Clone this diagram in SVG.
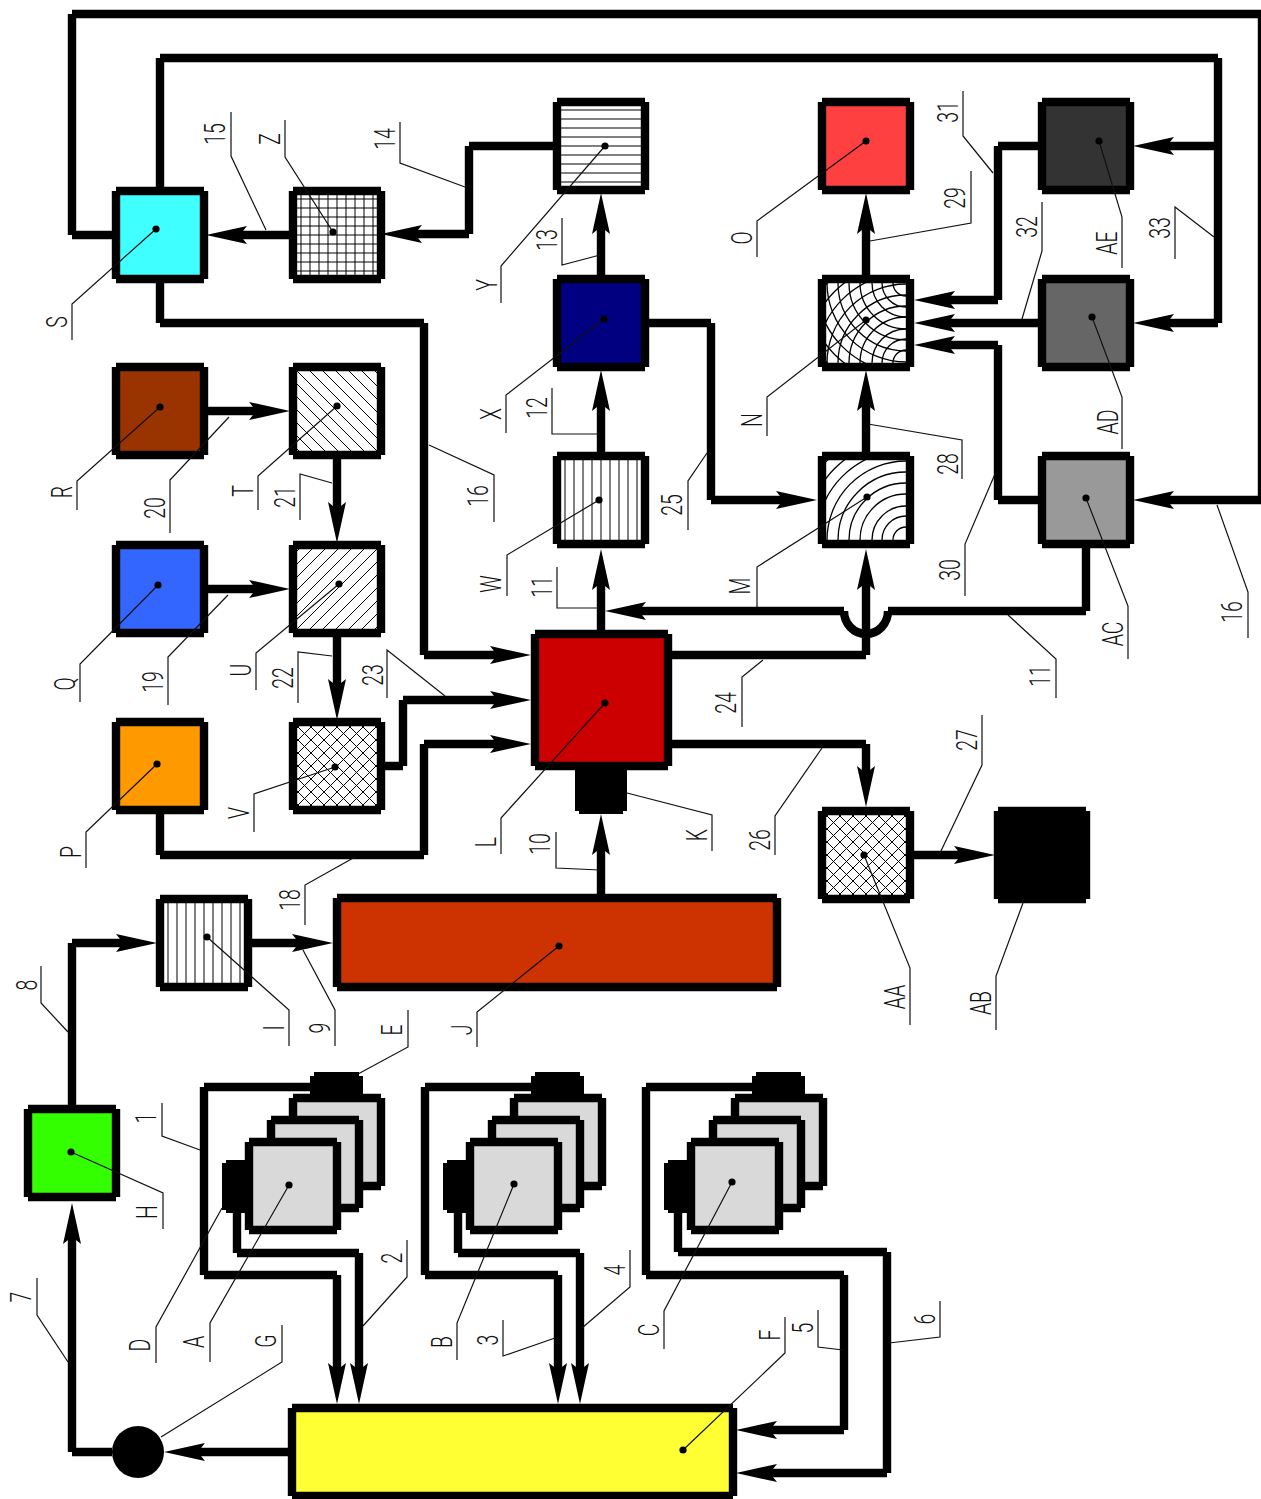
<svg xmlns="http://www.w3.org/2000/svg" width="1261" height="1499" viewBox="0 0 1261 1499">
<style>
.c path,.bx{fill:none;stroke:#000;stroke-width:8.4}
.a{marker-end:url(#arr)}
.ld,.l{fill:none;stroke:#111;stroke-width:1.2}
.ld{marker-start:url(#dot)}
.t{font-family:Roboto,"Liberation Sans",sans-serif;font-weight:300;font-size:30px;fill:#111;text-anchor:middle}
.h{fill:none;stroke:#000;stroke-width:1}
.r{fill:none;stroke:#000;stroke-width:1.3}
</style>
<defs>
<marker id="arr" markerUnits="userSpaceOnUse" markerWidth="41" markerHeight="18" viewBox="0 0 41 18" refX="11" refY="9" orient="auto"><path d="M0 0L41 9L0 18L4 13V5Z"/></marker>
<marker id="dot" markerUnits="userSpaceOnUse" markerWidth="8" markerHeight="8" viewBox="0 0 8 8" refX="4" refY="4"><circle cx="4" cy="4" r="3.6"/></marker>
<path id="b" class="bx" d="M-44 -44H44M44 -44V44M44 44H-44M-44 44V-44"/>
<rect id="f" x="-44" y="-44" width="88" height="88"/>
<pattern id="hh" x="4.5" y="4.5" width="9" height="9" patternUnits="userSpaceOnUse"><path class="h" d="M0 4.5H9"/></pattern>
<pattern id="hv" x="4.5" y="4.5" width="9" height="9" patternUnits="userSpaceOnUse"><path class="h" d="M4.5 0V9"/></pattern>
<pattern id="hg" x="4.5" y="4.5" width="9" height="9" patternUnits="userSpaceOnUse"><path class="h" d="M0 4.5H9M4.5 0V9"/></pattern>
<pattern id="hb" width="13" height="13" patternUnits="userSpaceOnUse"><path class="h" d="M0 0L13 13M-1 12L1 14M12 -1L14 1"/></pattern>
<pattern id="hf" width="13" height="13" patternUnits="userSpaceOnUse"><path class="h" d="M0 13L13 0M-1 1L1 -1M12 14L14 12"/></pattern>
<pattern id="hx" width="13" height="13" patternUnits="userSpaceOnUse"><path class="h" d="M0 0L13 13M-1 12L1 14M12 -1L14 1M0 13L13 0M-1 1L1 -1M12 14L14 12"/></pattern>
<clipPath id="ci"><rect x="-40" y="-40" width="80" height="80"/></clipPath>
<g id="arcs" class="r"><circle r="13"/><circle r="24"/><circle r="34"/><circle r="46"/><circle r="57"/><circle r="68"/><circle r="79"/><circle r="90"/><circle r="101"/><circle r="112"/></g>
<g id="cam"><use href="#f" x="44" y="-44" fill="#d9d9d9"/><use href="#b" x="44" y="-44"/><use href="#f" x="22" y="-22" fill="#d9d9d9"/><use href="#b" x="22" y="-22"/><use href="#f" fill="#d9d9d9"/><use href="#b"/></g>
</defs>
<rect width="1261" height="1499" fill="#fff"/>

<g id="connectors" class="c">
<path class="a" d="M310 1087H204M204 1087V1275M204 1275H337M337 1275V1374"/>
<path class="a" d="M237 1213V1253M237 1253H359M359 1253V1374"/>
<path class="a" d="M531 1087H425M425 1087V1275M425 1275H558M558 1275V1374"/>
<path class="a" d="M458 1213V1253M458 1253H580M580 1253V1374"/>
<path class="a" d="M752 1087H646M646 1087V1275M646 1275H844M844 1275V1430M844 1430H766"/>
<path class="a" d="M678 1213V1252M678 1252H887M887 1252V1473M887 1473H766"/>
<path class="a" d="M292 1452H194"/>
<path class="a" d="M112 1452H72M72 1452V1233"/>
<path class="a" d="M72 1105V943M72 943H127"/>
<path class="a" d="M251 943H303"/>
<path class="a" d="M160 810V855M160 855H424M424 855V744M424 744H501"/>
<path class="a" d="M601 894V844"/>
<path class="a" d="M381 766H403M403 766V700M403 700H501"/>
<path class="a" d="M160 281V323M160 323H424M424 323V655M424 655H501"/>
<path class="a" d="M601 630V579"/>
<path class="a" d="M1086 545V611M1086 611H888M888 611A22 23 0 0 1 844 611M844 611H635"/>
<path class="a" d="M672 655H866M866 655V579"/>
<path class="a" d="M649 323H711M711 323V500M711 500H787"/>
<path class="a" d="M672 744H866M866 744V777"/>
<path class="a" d="M914 855H965"/>
<path class="a" d="M866 453V400"/>
<path class="a" d="M866 277V223"/>
<path class="a" d="M601 453V400"/>
<path class="a" d="M601 277V223"/>
<path class="a" d="M555 146H469M469 146V234M469 234H411"/>
<path class="a" d="M290 235H236"/>
<path class="a" d="M160 190V58M160 58H1218M1218 58V323M1218 323H1163"/>
<path class="a" d="M1218 146H1163"/>
<path class="a" d="M114 235H72M72 235V14M72 14H1262M1262 14V500M1262 500H1163"/>
<path class="a" d="M1040 146H998M998 146V300M998 300H944"/>
<path class="a" d="M1040 323H944"/>
<path class="a" d="M1040 500H998M998 500V345M998 345H944"/>
<path class="a" d="M206 411H260"/>
<path class="a" d="M206 589H260"/>
<path class="a" d="M337 457V513"/>
<path class="a" d="M337 635V690"/>
</g>

<g id="nodeA" transform="translate(293 1186)"><use href="#cam"/></g>
<g id="nodeB" transform="translate(514 1186)"><use href="#cam"/></g>
<g id="nodeC" transform="translate(735 1186)"><use href="#cam"/></g>
<g id="nodeD"><path d="M226 1160H249V1213H226V1210H222V1163H226Z"/><path d="M447 1160H470V1213H447V1210H443V1163H447Z"/><path d="M668 1160H691V1213H668V1210H664V1163H668Z"/></g>
<g id="nodeE"><path d="M314 1072H359V1076H363V1095H310V1076H314Z"/><path d="M535 1072H580V1076H584V1095H531V1076H535Z"/><path d="M756 1072H801V1076H805V1095H752V1076H756Z"/></g>
<g id="nodeF"><rect x="292" y="1408" width="441" height="88" fill="#ffff33"/><path class="bx" d="M292 1408H733M733 1408V1496M733 1496H292M292 1496V1408"/></g>
<g id="nodeG"><circle cx="138" cy="1452" r="26"/></g>
<g id="nodeH" transform="translate(72 1153)"><use href="#f" fill="#33ff00"/><use href="#b"/></g>
<g id="nodeI" transform="translate(204 943)"><use href="#f" fill="#fff"/><use href="#f" fill="url(#hv)"/><use href="#b"/></g>
<g id="nodeJ"><rect x="337" y="898" width="440" height="89" fill="#cc3300"/><path class="bx" d="M337 898H777M777 898V987M777 987H337M337 987V898"/></g>
<g id="nodeK"><path d="M575 762H627V811H623V814H579V811H575Z"/></g>
<g id="nodeL"><rect x="535" y="634" width="133" height="132" fill="#cc0000"/><path class="bx" d="M535 634H668M668 634V766M668 766H535M535 766V634"/></g>
<g id="nodeM" transform="translate(866 500)"><use href="#f" fill="#fff"/><g clip-path="url(#ci)"><use href="#arcs" x="40" y="40"/></g><use href="#b"/></g>
<g id="nodeN" transform="translate(866 323)"><use href="#f" fill="#fff"/><g clip-path="url(#ci)"><use href="#arcs" x="40" y="40"/><use href="#arcs" x="40" y="-40"/></g><use href="#b"/></g>
<g id="nodeO" transform="translate(866 146)"><use href="#f" fill="#ff4040"/><use href="#b"/></g>
<g id="nodeP" transform="translate(160 766)"><use href="#f" fill="#ff9900"/><use href="#b"/></g>
<g id="nodeQ" transform="translate(160 589)"><use href="#f" fill="#3366ff"/><use href="#b"/></g>
<g id="nodeR" transform="translate(160 411)"><use href="#f" fill="#993300"/><use href="#b"/></g>
<g id="nodeS" transform="translate(160 235)"><use href="#f" fill="#40ffff"/><use href="#b"/></g>
<g id="nodeT" transform="translate(337 411)"><use href="#f" fill="#fff"/><use href="#f" fill="url(#hb)"/><use href="#b"/></g>
<g id="nodeU" transform="translate(337 589)"><use href="#f" fill="#fff"/><use href="#f" fill="url(#hf)"/><use href="#b"/></g>
<g id="nodeV" transform="translate(337 766)"><use href="#f" fill="#fff"/><use href="#f" fill="url(#hx)"/><use href="#b"/></g>
<g id="nodeW" transform="translate(601 500)"><use href="#f" fill="#fff"/><use href="#f" fill="url(#hv)"/><use href="#b"/></g>
<g id="nodeX" transform="translate(601 323)"><use href="#f" fill="#000080"/><use href="#b"/></g>
<g id="nodeY" transform="translate(601 146)"><use href="#f" fill="#fff"/><use href="#f" fill="url(#hh)"/><use href="#b"/></g>
<g id="nodeZ" transform="translate(337 235)"><use href="#f" fill="#fff"/><use href="#f" fill="url(#hg)"/><use href="#b"/></g>
<g id="nodeAA" transform="translate(866 855)"><use href="#f" fill="#fff"/><use href="#f" fill="url(#hx)"/><use href="#b"/></g>
<g id="nodeAB" transform="translate(1042 855)"><use href="#f" fill="#000"/><use href="#b"/></g>
<g id="nodeAC" transform="translate(1086 500)"><use href="#f" fill="#999"/><use href="#b"/></g>
<g id="nodeAD" transform="translate(1086 323)"><use href="#f" fill="#666"/><use href="#b"/></g>
<g id="nodeAE" transform="translate(1086 146)"><use href="#f" fill="#333"/><use href="#b"/></g>

<g id="leaders">
<path class="ld" d="M71 1152L163 1193V1229"/>
<path class="ld" d="M289 1185L210 1323V1362"/>
<path class="l" d="M222 1208L156 1327V1363"/>
<path class="l" d="M161 1437L282 1362V1325"/>
<path class="l" d="M68 1362L37 1315V1278"/>
<path class="l" d="M363 1326L407 1277V1240"/>
<path class="l" d="M200 1150L162 1136V1103"/>
<path class="l" d="M358 1074L408 1047V1010"/>
<path class="l" d="M68 1032L41 1003V966"/>
<path class="l" d="M303 950L335 1010V1046"/>
<path class="ld" d="M207 937L289 1010V1046"/>
<path class="ld" d="M559 946L477 1012V1047"/>
<path class="ld" d="M864 855L910 968V1025"/>
<path class="l" d="M1023 903L996 976V1030"/>
<path class="ld" d="M514 1184L457 1323V1360"/>
<path class="l" d="M555 1338L503 1356V1320"/>
<path class="l" d="M582 1328L630 1287V1250"/>
<path class="ld" d="M732 1182L664 1311V1349"/>
<path class="l" d="M843 1350L818 1347V1310"/>
<path class="ld" d="M683 1450L785 1353V1317"/>
<path class="l" d="M889 1343L940 1337V1301"/>
<path class="ld" d="M157 764L86 832V868"/>
<path class="ld" d="M335 767L254 794V832"/>
<path class="l" d="M355 857L305 885V925"/>
<path class="ld" d="M605 703L501 818V854"/>
<path class="l" d="M600 870L556 868V832"/>
<path class="l" d="M627 793L712 815V851"/>
<path class="l" d="M822 748L775 816V855"/>
<path class="l" d="M940 853L982 765V715"/>
<path class="l" d="M763 660L742 677V727"/>
<path class="l" d="M1008 615L1056 659V698"/>
<path class="ld" d="M1086 498L1128 606V659"/>
<path class="l" d="M1217 505L1248 592V638"/>
<path class="l" d="M995 474L965 544V596"/>
<path class="l" d="M707 453L688 481V530"/>
<path class="ld" d="M867 497L757 567V607"/>
<path class="l" d="M597 608L557 608V567"/>
<path class="ld" d="M599 500L507 555V596"/>
<path class="l" d="M868 424L962 440V479"/>
<path class="ld" d="M866 320L767 397V436"/>
<path class="ld" d="M604 319L506 395V433"/>
<path class="l" d="M600 434L552 434V388"/>
<path class="l" d="M429 445L494 475V522"/>
<path class="l" d="M229 417L170 480V533"/>
<path class="l" d="M332 483L300 474V520"/>
<path class="ld" d="M337 406L258 476V510"/>
<path class="ld" d="M339 584L256 653V690"/>
<path class="l" d="M332 656L298 652V703"/>
<path class="l" d="M445 696L387 650V698"/>
<path class="l" d="M228 595L168 657V705"/>
<path class="ld" d="M158 585L80 664V702"/>
<path class="ld" d="M160 407L77 481V510"/>
<path class="ld" d="M156 229L72 304V340"/>
<path class="ld" d="M333 232L285 157V120"/>
<path class="l" d="M266 230L231 156V112"/>
<path class="l" d="M465 187L400 163V122"/>
<path class="l" d="M600 255L562 265V218"/>
<path class="ld" d="M605 146L501 266V303"/>
<path class="ld" d="M866 141L757 221V257"/>
<path class="l" d="M870 241L971 223V171"/>
<path class="l" d="M993 173L963 136V91"/>
<path class="l" d="M1022 319L1042 251V202"/>
<path class="ld" d="M1099 141L1122 217V268"/>
<path class="ld" d="M1092 317L1122 397V449"/>
<path class="l" d="M1214 237L1175 207V259"/>
</g>

<g id="labels">
<text class="t" transform="translate(157 1212) rotate(-90) scale(.65 1)">H</text>
<text class="t" transform="translate(204 1342) rotate(-90) scale(.65 1)">A</text>
<text class="t" transform="translate(150 1345) rotate(-90) scale(.65 1)">D</text>
<text class="t" transform="translate(276 1341) rotate(-90) scale(.65 1)">G</text>
<text class="t" transform="translate(31 1297) rotate(-90) scale(.65 1)">7</text>
<text class="t" transform="translate(402 1258) rotate(-90) scale(.65 1)">2</text>
<text class="t" transform="translate(156 1118) rotate(-90) scale(.65 1)">1</text>
<text class="t" transform="translate(402 1030) rotate(-90) scale(.65 1)">E</text>
<text class="t" transform="translate(37 985) rotate(-90) scale(.65 1)">8</text>
<text class="t" transform="translate(330 1028) rotate(-90) scale(.65 1)">9</text>
<text class="t" transform="translate(284 1028) rotate(-90) scale(.65 1)">I</text>
<text class="t" transform="translate(472 1030) rotate(-90) scale(.65 1)">J</text>
<text class="t" transform="translate(905 997) rotate(-90) scale(.65 1)">AA</text>
<text class="t" transform="translate(991 1003) rotate(-90) scale(.65 1)">AB</text>
<text class="t" transform="translate(452 1342) rotate(-90) scale(.65 1)">B</text>
<text class="t" transform="translate(498 1340) rotate(-90) scale(.65 1)">3</text>
<text class="t" transform="translate(625 1270) rotate(-90) scale(.65 1)">4</text>
<text class="t" transform="translate(659 1330) rotate(-90) scale(.65 1)">C</text>
<text class="t" transform="translate(813 1328) rotate(-90) scale(.65 1)">5</text>
<text class="t" transform="translate(780 1335) rotate(-90) scale(.65 1)">F</text>
<text class="t" transform="translate(935 1319) rotate(-90) scale(.65 1)">6</text>
<text class="t" transform="translate(81 852) rotate(-90) scale(.65 1)">P</text>
<text class="t" transform="translate(249 813) rotate(-90) scale(.65 1)">V</text>
<text class="t" transform="translate(300 900) rotate(-90) scale(.65 1)">18</text>
<text class="t" transform="translate(496 842) rotate(-90) scale(.65 1)">L</text>
<text class="t" transform="translate(550 844) rotate(-90) scale(.65 1)">10</text>
<text class="t" transform="translate(707 835) rotate(-90) scale(.65 1)">K</text>
<text class="t" transform="translate(770 840) rotate(-90) scale(.65 1)">26</text>
<text class="t" transform="translate(977 740) rotate(-90) scale(.65 1)">27</text>
<text class="t" transform="translate(736 703) rotate(-90) scale(.65 1)">24</text>
<text class="t" transform="translate(1050 676) rotate(-90) scale(.65 1)">11</text>
<text class="t" transform="translate(1123 634) rotate(-90) scale(.65 1)">AC</text>
<text class="t" transform="translate(1242 612) rotate(-90) scale(.65 1)">16</text>
<text class="t" transform="translate(960 570) rotate(-90) scale(.65 1)">30</text>
<text class="t" transform="translate(682 505) rotate(-90) scale(.65 1)">25</text>
<text class="t" transform="translate(750 586) rotate(-90) scale(.65 1)">M</text>
<text class="t" transform="translate(552 587) rotate(-90) scale(.65 1)">11</text>
<text class="t" transform="translate(501 584) rotate(-90) scale(.65 1)">W</text>
<text class="t" transform="translate(958 464) rotate(-90) scale(.65 1)">28</text>
<text class="t" transform="translate(762 420) rotate(-90) scale(.65 1)">N</text>
<text class="t" transform="translate(501 414) rotate(-90) scale(.65 1)">X</text>
<text class="t" transform="translate(547 408) rotate(-90) scale(.65 1)">12</text>
<text class="t" transform="translate(488 496) rotate(-90) scale(.65 1)">16</text>
<text class="t" transform="translate(165 508) rotate(-90) scale(.65 1)">20</text>
<text class="t" transform="translate(295 497) rotate(-90) scale(.65 1)">21</text>
<text class="t" transform="translate(253 491) rotate(-90) scale(.65 1)">T</text>
<text class="t" transform="translate(251 670) rotate(-90) scale(.65 1)">U</text>
<text class="t" transform="translate(293 678) rotate(-90) scale(.65 1)">22</text>
<text class="t" transform="translate(383 675) rotate(-90) scale(.65 1)">23</text>
<text class="t" transform="translate(163 682) rotate(-90) scale(.65 1)">19</text>
<text class="t" transform="translate(75 684) rotate(-90) scale(.65 1)">Q</text>
<text class="t" transform="translate(72 492) rotate(-90) scale(.65 1)">R</text>
<text class="t" transform="translate(67 322) rotate(-90) scale(.65 1)">S</text>
<text class="t" transform="translate(280 139) rotate(-90) scale(.65 1)">Z</text>
<text class="t" transform="translate(225 134) rotate(-90) scale(.65 1)">15</text>
<text class="t" transform="translate(395 139) rotate(-90) scale(.65 1)">14</text>
<text class="t" transform="translate(557 240) rotate(-90) scale(.65 1)">13</text>
<text class="t" transform="translate(497 285) rotate(-90) scale(.65 1)">Y</text>
<text class="t" transform="translate(752 238) rotate(-90) scale(.65 1)">O</text>
<text class="t" transform="translate(965 198) rotate(-90) scale(.65 1)">29</text>
<text class="t" transform="translate(958 112) rotate(-90) scale(.65 1)">31</text>
<text class="t" transform="translate(1037 227) rotate(-90) scale(.65 1)">32</text>
<text class="t" transform="translate(1117 243) rotate(-90) scale(.65 1)">AE</text>
<text class="t" transform="translate(1118 422) rotate(-90) scale(.65 1)">AD</text>
<text class="t" transform="translate(1170 228) rotate(-90) scale(.65 1)">33</text>
</g>
</svg>
